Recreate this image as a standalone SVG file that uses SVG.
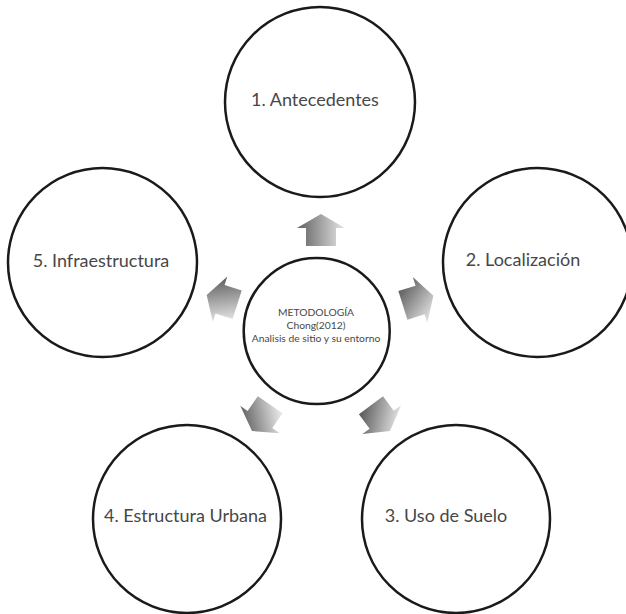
<svg xmlns="http://www.w3.org/2000/svg" width="626" height="614" viewBox="0 0 626 614">
<style>
.c{fill:#fff;stroke:#1a1a1a;stroke-width:2.5}
.t{font-family:Lato,"Noto Sans",sans-serif;font-size:18px;fill:#474747;text-anchor:middle}
.s{font-family:Lato,"Noto Sans",sans-serif;font-size:10.3px;fill:#474747;text-anchor:middle}
</style>
<defs>
<path id="arr" d="M0,0 L-14,-24 L-14,-15 L-32,-15 L-32,15 L-14,15 L-14,24 Z"/>
<linearGradient id="gT" x1="0.5" y1="0" x2="0.5" y2="1"><stop offset="0" stop-color="#5e5e5e"/><stop offset="1" stop-color="#e8e8e8"/></linearGradient>
<linearGradient id="gR" x1="0.27" y1="0.05" x2="0.73" y2="0.95"><stop offset="0" stop-color="#5e5e5e"/><stop offset="1" stop-color="#e8e8e8"/></linearGradient>
<linearGradient id="gBR" x1="0.2" y1="0.9" x2="0.8" y2="0.1"><stop offset="0" stop-color="#5e5e5e"/><stop offset="1" stop-color="#e8e8e8"/></linearGradient>
<linearGradient id="gBL" x1="0.785" y1="0.91" x2="0.215" y2="0.09"><stop offset="0" stop-color="#5e5e5e"/><stop offset="1" stop-color="#e8e8e8"/></linearGradient>
<linearGradient id="gL" x1="0.65" y1="0.975" x2="0.35" y2="0.025"><stop offset="0" stop-color="#5e5e5e"/><stop offset="1" stop-color="#e8e8e8"/></linearGradient>
</defs>
<rect width="626" height="614" fill="#fff"/>
<g id="connectors">
<use href="#arr" fill="url(#gT)" transform="translate(321,214) rotate(-90)"/>
<use href="#arr" fill="url(#gR)" transform="translate(433.4,295.7) rotate(-17.6)"/>
<use href="#arr" fill="url(#gBR)" transform="translate(390,431) rotate(53.5)"/>
<use href="#arr" fill="url(#gBL)" transform="translate(252,431) rotate(124.7)"/>
<use href="#arr" fill="url(#gL)" transform="translate(206.7,295) rotate(197.7)"/>
</g>
<g id="center">
<circle class="c" cx="316.7" cy="331" r="73"/>
<text class="s" x="316" y="316">METODOLOGÍA</text>
<text class="s" x="316" y="329">Chong(2012)</text>
<text class="s" x="316" y="342">Analisis de sitio y su entorno</text>
</g>
<g id="n1">
<circle class="c" cx="320" cy="102" r="95"/>
<text class="t" x="315" y="106">1. Antecedentes</text>
</g>
<g id="n2">
<circle class="c" cx="537.5" cy="262.5" r="94.5"/>
<text class="t" x="523" y="266">2. Localización</text>
</g>
<g id="n3">
<circle class="c" cx="456" cy="519" r="94"/>
<text class="t" x="446" y="522">3. Uso de Suelo</text>
</g>
<g id="n4">
<circle class="c" cx="187" cy="519" r="94"/>
<text class="t" x="185.5" y="522">4. Estructura Urbana</text>
</g>
<g id="n5">
<circle class="c" cx="102.5" cy="262.5" r="94.5"/>
<text class="t" x="101" y="267">5. Infraestructura</text>
</g>
</svg>
